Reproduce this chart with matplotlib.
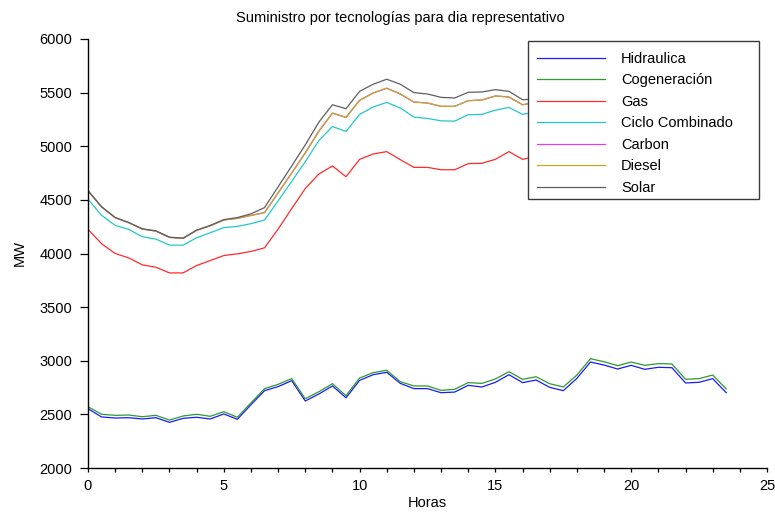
import matplotlib
matplotlib.use("Agg")
import matplotlib.pyplot as plt
from matplotlib.ticker import MultipleLocator
from matplotlib.patches import Rectangle

plt.rcParams['font.family'] = ['Liberation Sans', 'DejaVu Sans']

# Half-hourly time axis (hours)
horas = [0, 0.5, 1, 1.5, 2, 2.5, 3, 3.5, 4, 4.5, 5, 5.5, 6, 6.5, 7, 7.5,
         8, 8.5, 9, 9.5, 10, 10.5, 11, 11.5, 12, 12.5, 13, 13.5, 14, 14.5,
         15, 15.5, 16, 16.5, 17, 17.5, 18, 18.5, 19, 19.5, 20, 20.5, 21,
         21.5, 22, 22.5, 23, 23.5]

# Cumulative supply per technology (MW)
hidraulica = [2553, 2476, 2466, 2469, 2457, 2469, 2426, 2463, 2473, 2457, 2504, 2454,
              2590, 2721, 2759, 2814, 2625, 2690, 2765, 2655, 2817, 2870, 2892, 2789,
              2740, 2740, 2702, 2708, 2771, 2755, 2799, 2870, 2796, 2820, 2752, 2721,
              2836, 2988, 2960, 2923, 2957, 2920, 2939, 2935, 2793, 2799, 2833, 2702]

cogeneracion = [2571, 2501, 2491, 2494, 2478, 2491, 2447, 2485, 2501, 2482, 2525, 2473,
                2607, 2740, 2780, 2833, 2646, 2711, 2786, 2674, 2839, 2889, 2911, 2805,
                2765, 2765, 2724, 2734, 2796, 2789, 2830, 2898, 2827, 2851, 2786, 2755,
                2867, 3019, 2991, 2954, 2988, 2957, 2973, 2970, 2827, 2833, 2867, 2737]

gas = [4225, 4091, 4000, 3959, 3894, 3872, 3819, 3819, 3888, 3934, 3981, 3997,
       4019, 4053, 4228, 4419, 4606, 4741, 4816, 4716, 4878, 4928, 4950, 4875,
       4803, 4803, 4781, 4781, 4838, 4841, 4878, 4950, 4878, 4905, 4850, 4830,
       4950, 5090, 5060, 5020, 5050, 5010, 5030, 5020, 4880, 4890, 4920, 4790]

ciclo_combinado = [4506, 4356, 4262, 4225, 4156, 4134, 4078, 4078, 4147, 4194, 4241, 4253,
                   4278, 4312, 4491, 4672, 4856, 5053, 5184, 5138, 5297, 5366, 5409, 5356,
                   5272, 5259, 5237, 5234, 5294, 5297, 5337, 5362, 5297, 5320, 5250, 5230,
                   5350, 5500, 5470, 5430, 5460, 5420, 5440, 5430, 5290, 5300, 5330, 5200]

carbon = [4584, 4434, 4334, 4287, 4228, 4209, 4150, 4141, 4216, 4259, 4312, 4328,
          4355, 4381, 4566, 4750, 4938, 5141, 5309, 5269, 5428, 5497, 5541, 5487,
          5412, 5403, 5372, 5372, 5425, 5431, 5469, 5459, 5387, 5410, 5340, 5310,
          5430, 5580, 5550, 5510, 5540, 5500, 5520, 5510, 5370, 5380, 5410, 5280]

diesel = [4584, 4434, 4334, 4287, 4228, 4209, 4150, 4141, 4216, 4259, 4312, 4328,
          4355, 4381, 4566, 4750, 4938, 5141, 5309, 5269, 5428, 5497, 5541, 5487,
          5412, 5403, 5372, 5372, 5425, 5431, 5469, 5459, 5387, 5410, 5340, 5310,
          5430, 5580, 5550, 5510, 5540, 5500, 5520, 5510, 5370, 5380, 5410, 5280]

solar = [4586, 4436, 4336, 4289, 4230, 4211, 4152, 4143, 4218, 4261, 4316, 4335,
         4370, 4428, 4622, 4816, 5013, 5225, 5387, 5350, 5512, 5578, 5625, 5578,
         5500, 5487, 5456, 5450, 5503, 5506, 5528, 5512, 5434, 5440, 5350, 5315,
         5432, 5580, 5550, 5510, 5540, 5500, 5520, 5510, 5370, 5380, 5410, 5280]

series = [
    ("Hidraulica", hidraulica, "#1a1aff"),
    ("Cogeneración", cogeneracion, "#2e9a2e"),
    ("Gas", gas, "#ff2a2a"),
    ("Ciclo Combinado", ciclo_combinado, "#22c8c8"),
    ("Carbon", carbon, "#e040e0"),
    ("Diesel", diesel, "#c4a828"),
    ("Solar", solar, "#5f5f5f"),
]

W, H = 775, 513
fig = plt.figure(figsize=(W / 100, H / 100), dpi=100)
ax = fig.add_axes([88 / W, 1 - 468 / H, (767 - 88) / W, (468 - 39) / H])

handles = []
for name, vals, col in series:
    ln, = ax.plot(horas, vals, color=col, lw=0.9, label=name)
    handles.append(ln)

ax.set_xlim(0, 25)
ax.set_ylim(2000, 6000)
ax.xaxis.set_major_locator(MultipleLocator(5))
ax.xaxis.set_minor_locator(MultipleLocator(1))
ax.yaxis.set_major_locator(MultipleLocator(500))

for side in ("top", "right"):
    ax.spines[side].set_visible(False)
for side in ("left", "bottom"):
    ax.spines[side].set_linewidth(1.0)
    ax.spines[side].set_color("black")

ax.tick_params(axis="y", which="major", direction="out", length=5.5,
               width=0.9, pad=6, labelsize=10.5, colors="black")
ax.tick_params(axis="x", which="major", direction="out", length=3,
               width=0.9, pad=5, labelsize=10.5, colors="black")
ax.tick_params(axis="x", which="minor", direction="out", length=3, width=0.9)

fig.text(400 / W, 1 - 18 / H, "Suministro por tecnologías para dia representativo",
         fontsize=10.5, ha="center", va="center")
ax.set_xlabel("Horas", fontsize=10.5, labelpad=2)
ax.set_ylabel("MW", fontsize=10.5, labelpad=9)

# Legend box (opaque, square corners) drawn over the plot area
box = Rectangle((528 / W, 1 - 199 / H), 231 / W, 158 / H,
                transform=fig.transFigure, facecolor="white",
                edgecolor="#3a3a3a", lw=1.0, zorder=1)
fig.patches.append(box)

leg = fig.legend(handles, [s[0] for s in series], loc="upper left",
                 bbox_to_anchor=(537 / W, 1 - 52 / H),
                 fontsize=10.5, handlelength=4.66, handletextpad=1.1,
                 labelspacing=0.51, borderpad=0.0, borderaxespad=0.0,
                 frameon=False)
leg.set_zorder(2)

fig.savefig("out.png", dpi=100, facecolor="white")
